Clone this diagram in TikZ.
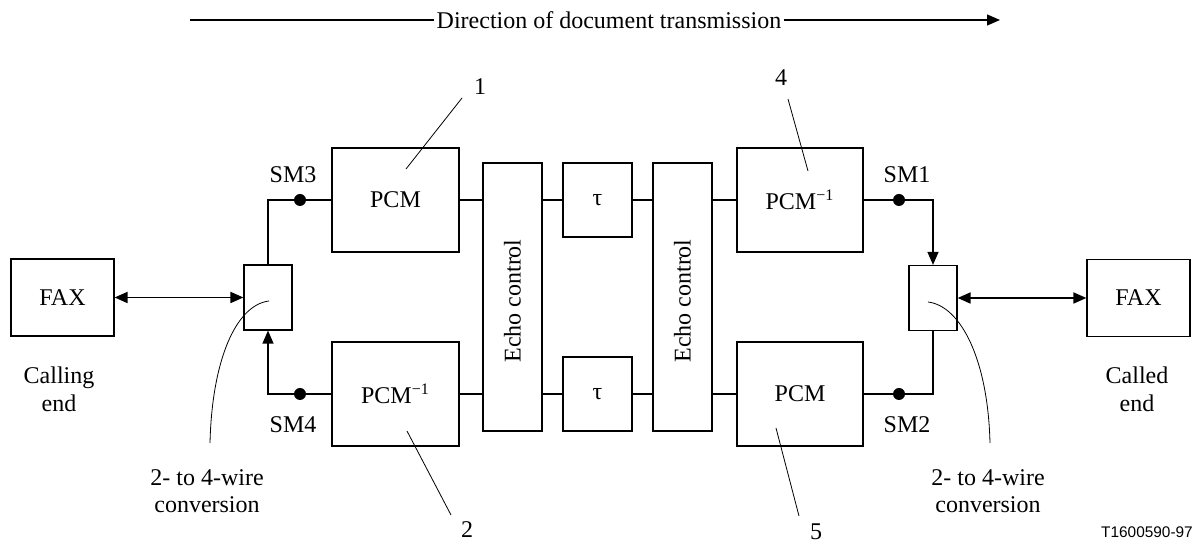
\documentclass[tikz,border=0pt]{standalone}
\usepackage{fontspec}
\setmainfont{Liberation Serif}
\newfontfamily\sansid{Liberation Sans}
\usetikzlibrary{arrows.meta,calc}
\begin{document}
\begin{tikzpicture}[x=0.5pt,y=-0.5pt,
  font=\fontsize{12}{13.8}\selectfont,
  line width=0.6pt,
  tip/.style={-{Triangle[length=6.5pt,width=5.5pt]}},
  twotip/.style={line width=0.9pt,{Triangle[length=6.5pt,width=5.5pt]}-{Triangle[length=6.5pt,width=5.5pt]}},
  blk/.style={draw,inner sep=0pt},
  leader/.style={line width=0.4pt},
  smdot/.style={circle,fill,inner sep=0pt,minimum size=6pt},
  lbl/.style={inner sep=0pt,align=center}]
\useasboundingbox (0,0) rectangle (1196,544);

% direction arrow
\node[inner sep=1pt] (dir) at (609,20) {Direction of document transmission};
\coordinate (dirL) at (190,20);
\coordinate (dirR) at (1000,20);
\draw (dirL) -- (dir.west);
\draw[tip] (dir.east) -- (dirR);

% blocks
\node[blk,minimum width=51.5pt,minimum height=38.5pt] (FAXL) at (62.5,297.5) {FAX};
\node[blk,minimum width=24pt,minimum height=32.5pt] (HL) at (268,297.5) {};
\node[blk,minimum width=63.5pt,minimum height=52pt] (PCM1) at (395.5,200) {PCM};
\node[blk,minimum width=63.5pt,minimum height=52pt] (PCM2) at (395.5,394) {PCM\textsuperscript{−1}};
\node[blk,minimum width=29.5pt,minimum height=134pt] (EC1) at (512.5,297) {};
\node[rotate=90] at ($(EC1)+(0,4)$) {Echo control};
\node[blk,minimum width=34.5pt,minimum height=37pt] (T1) at (597.5,200) {τ};
\node[blk,minimum width=34.5pt,minimum height=37pt] (T2) at (597.5,394) {τ};
\node[blk,minimum width=29.5pt,minimum height=134pt] (EC2) at (682.5,297) {};
\node[rotate=90] at ($(EC2)+(0,4)$) {Echo control};
\node[blk,minimum width=63pt,minimum height=52pt] (PCM4) at (800,200) {PCM\textsuperscript{−1}};
\node[blk,minimum width=63pt,minimum height=52pt] (PCM5) at (800,394) {PCM};
\node[blk,minimum width=24pt,minimum height=32.5pt] (HR) at (933,298) {};
\node[blk,minimum width=51.5pt,minimum height=38.5pt] (FAXR) at (1138.5,298) {FAX};

% signal lines
\draw (PCM1.east) -- (PCM1.east -| EC1.west);
\draw (PCM2.east) -- (PCM2.east -| EC1.west);
\draw (T1.west -| EC1.east) -- (T1.west);
\draw (T2.west -| EC1.east) -- (T2.west);
\draw (T1.east) -- (T1.east -| EC2.west);
\draw (T2.east) -- (T2.east -| EC2.west);
\draw (PCM4.west -| EC2.east) -- (PCM4.west);
\draw (PCM5.west -| EC2.east) -- (PCM5.west);

\draw (PCM1.west) -| (HL.north);
\draw[tip] (PCM2.west) -| (HL.south);
\draw[tip] (PCM4.east) -| (HR.north);
\draw (PCM5.east) -| (HR.south);
\draw[twotip] (FAXL.east) -- (HL.west);
\draw[twotip] (HR.east) -- (FAXR.west);

% monitoring points
\node[smdot] (d3) at (300,200) {};
\node[smdot] (d4) at (300,394) {};
\node[smdot] (d1) at (899,200) {};
\node[smdot] (d2) at (899,394) {};
\node[lbl] (SM3) at (293,175) {SM3};
\node[lbl] (SM4) at (293,425) {SM4};
\node[lbl] (SM1) at (907,175) {SM1};
\node[lbl] (SM2) at (907,425) {SM2};

% end labels
\node[lbl] (cal) at (59,389) {Calling\\end};
\node[lbl] (cld) at (1137,389) {Called\\end};

% hybrid labels
\node[lbl] (convL) at (207,491) {2- to 4-wire\\conversion};
\node[lbl] (convR) at (988,491) {2- to 4-wire\\conversion};
\coordinate (hlin) at (269,301);
\coordinate (hlout) at (210,443);
\coordinate (hrin) at (928,302);
\coordinate (hrout) at (990,443);
\draw[leader] (hlin) .. controls (236,305) and (212,360) .. (hlout);
\draw[leader] (hrin) .. controls (961,306) and (988,360) .. (hrout);

% numbered leaders
\node[lbl] (n1) at (480,87) {1};
\node[lbl] (n4) at (781,78) {4};
\node[lbl] (n2) at (467,530) {2};
\node[lbl] (n5) at (816,532) {5};
\coordinate (l1a) at (462,98);  \coordinate (l1b) at (406,169);
\coordinate (l4a) at (788,99);  \coordinate (l4b) at (808,171);
\coordinate (l2a) at (407,431); \coordinate (l2b) at (451,515);
\coordinate (l5a) at (776,428); \coordinate (l5b) at (799,516);
\draw[leader] (l1a) -- (l1b);
\draw[leader] (l4a) -- (l4b);
\draw[leader] (l2a) -- (l2b);
\draw[leader] (l5a) -- (l5b);

\node[lbl,font=\sansid\fontsize{7.7}{9}\selectfont] (ref) at (1147,532) {T1600590-97};
\end{tikzpicture}
\end{document}
